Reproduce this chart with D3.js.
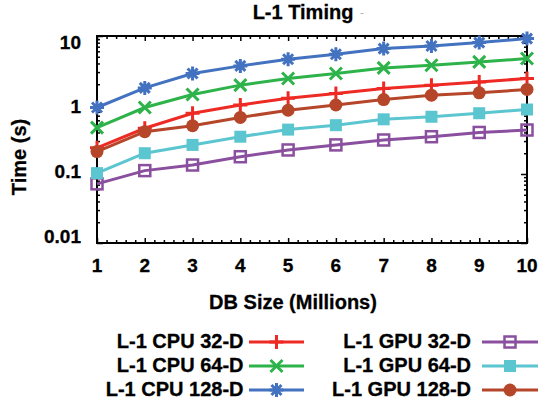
<!DOCTYPE html>
<html>
<head>
<meta charset="utf-8">
<script src="https://cdn.jsdelivr.net/npm/d3@7"></script>
<style>
  body { margin: 0; background: #fff; }
  text { font-family: "Liberation Sans", Arial, sans-serif; font-weight: bold; fill: #000; stroke: #000; stroke-width: 0.3px; }
</style>
</head>
<body>
<svg id="chart"></svg>
<script>
// data (time in seconds)
var sizes = [1, 2, 3, 4, 5, 6, 7, 8, 9, 10];
var cpu32  = [0.24, 0.46, 0.76, 1.0, 1.25, 1.47, 1.74, 1.94, 2.16, 2.42];
var cpu64  = [0.47, 0.92, 1.42, 1.94, 2.42, 2.86, 3.45, 3.77, 4.21, 4.71];
var cpu128 = [0.92, 1.77, 2.86, 3.69, 4.6, 5.44, 6.57, 7.17, 8.03, 9.17];
var gpu32  = [0.072, 0.112, 0.135, 0.178, 0.223, 0.264, 0.311, 0.347, 0.40, 0.434];
var gpu64  = [0.103, 0.2, 0.264, 0.347, 0.44, 0.51, 0.62, 0.675, 0.76, 0.86];
var gpu128 = [0.211, 0.41, 0.50, 0.66, 0.84, 1.0, 1.20, 1.39, 1.50, 1.68];
var yTicks = [0.01, 0.1, 1, 10];
var yTickLabels = ["0.01", "0.1", "1", "10"];
var names = ["L-1 CPU 32-D", "L-1 CPU 64-D", "L-1 CPU 128-D", "L-1 GPU 32-D", "L-1 GPU 64-D", "L-1 GPU 128-D"];

var series = [
  {name: names[0], values: cpu32,  color: "#ee2a24", mark: "plus"},
  {name: names[1], values: cpu64,  color: "#2db34a", mark: "cross"},
  {name: names[2], values: cpu128, color: "#4372c0", mark: "star"},
  {name: names[3], values: gpu32,  color: "#8a4f9e", mark: "opensquare"},
  {name: names[4], values: gpu64,  color: "#5bc5d0", mark: "square"},
  {name: names[5], values: gpu128, color: "#b5462a", mark: "circle"}
];

var screen = {width: 542, height: 406};
var plot = {left: 97, right: 527, top: 36, bottom: 243};

var svg = d3.select("#chart")
  .attr("width", screen.width)
  .attr("height", screen.height);

var xScale = d3.scaleLinear().domain([1, 10]).range([plot.left, plot.right]);
var yScale = d3.scaleLog().domain([0.01, 10]).range([plot.bottom, plot.top]);
// tick labels sit a little inside the tick marks in the original
var yLabelScale = yScale.copy().range([236, 42]);

// minor ticks
var xMinor = [];
for (var i = 1; i < 10; i++) {
  for (var k = 1; k < 5; k++) xMinor.push(i + k / 5);
}
var yMinor = [];
[0.01, 0.1, 1].forEach(function(d) {
  for (var m = 2; m < 10; m++) yMinor.push(d * m);
});

var axes = svg.append("g");

var addAxis = function(axisFn, scale, values, size, transform) {
  var g = axes.append("g")
    .attr("transform", transform)
    .call(axisFn(scale).tickValues(values).tickSize(-size).tickFormat(""));
  g.select(".domain").remove();
  g.selectAll("line").attr("stroke", "#000").attr("stroke-width", 1.5);
};

addAxis(d3.axisBottom, xScale, sizes, 5, "translate(0," + plot.bottom + ")");
addAxis(d3.axisBottom, xScale, xMinor, 3, "translate(0," + plot.bottom + ")");
addAxis(d3.axisTop, xScale, sizes, 5, "translate(0," + plot.top + ")");
addAxis(d3.axisTop, xScale, xMinor, 3, "translate(0," + plot.top + ")");
addAxis(d3.axisLeft, yScale, yTicks, 6, "translate(" + plot.left + ",0)");
addAxis(d3.axisLeft, yScale, yMinor, 3, "translate(" + plot.left + ",0)");
addAxis(d3.axisRight, yScale, yTicks, 6, "translate(" + plot.right + ",0)");
addAxis(d3.axisRight, yScale, yMinor, 3, "translate(" + plot.right + ",0)");

// frame
axes.append("rect")
  .attr("x", plot.left)
  .attr("y", plot.top)
  .attr("width", plot.right - plot.left)
  .attr("height", plot.bottom - plot.top)
  .attr("fill", "none")
  .attr("stroke", "#000")
  .attr("stroke-width", 2);

// tick labels
axes.selectAll(".xlab")
  .data(sizes)
  .enter().append("text")
  .attr("x", function(d) { return xScale(d); })
  .attr("y", 272)
  .attr("text-anchor", "middle")
  .style("font-size", "19px")
  .text(function(d) { return d; });

axes.selectAll(".ylab")
  .data(yTicks)
  .enter().append("text")
  .attr("x", 81)
  .attr("y", function(d) { return yLabelScale(d); })
  .attr("dy", "0.35em")
  .attr("text-anchor", "end")
  .style("font-size", "19px")
  .text(function(d, i) { return yTickLabels[i]; });

// titles
svg.append("text")
  .attr("x", 303).attr("y", 18.5)
  .attr("text-anchor", "middle")
  .style("font-size", "20px")
  .text("L-1 Timing");
svg.append("text")
  .attr("x", 362).attr("y", 17)
  .attr("text-anchor", "middle")
  .style("font-size", "12px")
  .style("font-weight", "normal")
  .style("stroke", "none")
  .style("fill", "#b0b0b0")
  .text("-");

svg.append("text")
  .attr("x", 293).attr("y", 309)
  .attr("text-anchor", "middle")
  .style("font-size", "20px")
  .text("DB Size (Millions)");

svg.append("text")
  .attr("transform", "translate(26,157) rotate(-90)")
  .attr("text-anchor", "middle")
  .style("font-size", "20px")
  .text("Time (s)");

// markers
var drawMark = function(g, mark, color) {
  if (mark == "plus") {
    g.append("path").attr("d", "M-7,0H7M0,-7V7")
      .attr("stroke", color).attr("stroke-width", 3).attr("fill", "none");
  } else if (mark == "cross") {
    g.append("path").attr("d", "M-6,-6L6,6M-6,6L6,-6")
      .attr("stroke", color).attr("stroke-width", 3).attr("fill", "none");
  } else if (mark == "star") {
    g.append("path").attr("d", "M-7,0H7M0,-7V7M-5,-5L5,5M-5,5L5,-5")
      .attr("stroke", color).attr("stroke-width", 3).attr("fill", "none");
    g.append("circle").attr("r", 3.5).attr("fill", color);
  } else if (mark == "opensquare") {
    g.append("rect").attr("x", -5.5).attr("y", -5.5).attr("width", 11).attr("height", 11)
      .attr("stroke", color).attr("stroke-width", 2.5).attr("fill", "none");
  } else if (mark == "square") {
    g.append("rect").attr("x", -6).attr("y", -6).attr("width", 12).attr("height", 12)
      .attr("fill", color);
  } else {
    g.append("circle").attr("r", 6.5).attr("fill", color);
  }
};

var line = d3.line()
  .x(function(d, i) { return xScale(sizes[i]); })
  .y(function(d) { return yScale(d); });

var lines = svg.append("g");
series.forEach(function(s) {
  var g = lines.append("g");
  g.append("path")
    .attr("d", line(s.values))
    .attr("fill", "none")
    .attr("stroke", s.color)
    .attr("stroke-width", 3);
  s.values.forEach(function(v, i) {
    var m = g.append("g")
      .attr("transform", "translate(" + xScale(sizes[i]) + "," + yScale(v) + ")");
    drawMark(m, s.mark, s.color);
  });
});

// legend: two columns, three rows
var legend = svg.append("g");
var cols = [{textEnd: 243.5, x0: 249, x1: 304}, {textEnd: 471, x0: 482, x1: 538}];
var rows = [348, 372, 396];
series.forEach(function(s, i) {
  var c = cols[Math.floor(i / 3)];
  var y = rows[i % 3];
  legend.append("text")
    .attr("x", c.textEnd).attr("y", y)
    .attr("text-anchor", "end")
    .style("font-size", "20px")
    .text(s.name);
  legend.append("line")
    .attr("x1", c.x0).attr("x2", c.x1)
    .attr("y1", y - 6).attr("y2", y - 6)
    .attr("stroke", s.color).attr("stroke-width", 3);
  var m = legend.append("g")
    .attr("transform", "translate(" + ((c.x0 + c.x1) / 2) + "," + (y - 6) + ")");
  drawMark(m, s.mark, s.color);
});
</script>
</body>
</html>
